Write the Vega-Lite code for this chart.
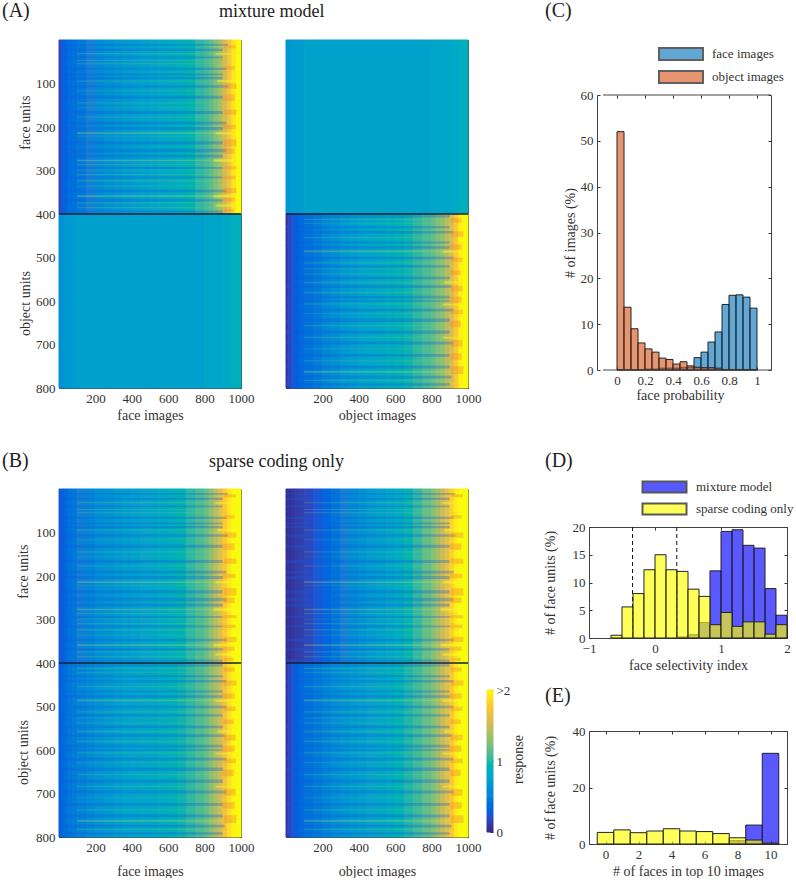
{"$schema":"https://vega.github.io/schema/vega-lite/v6.json","padding":{"left":2,"top":0,"right":0,"bottom":0},"background":"white","spacing":0,
"resolve":{"scale":{"color":"independent","fill":"independent","stroke":"independent","opacity":"independent"},"legend":{"color":"independent"}},
"config":{"font":"Liberation Serif","view":{"stroke":null},"title":{"font":"Liberation Serif","fontSize":18,"fontWeight":"normal","color":"#222","anchor":"start","frame":"group"},
"axis":{"labelFont":"Liberation Serif","labelFontSize":13,"titleFont":"Liberation Serif","titleFontSize":14,"titleFontWeight":"normal","labelColor":"#333","titleColor":"#333","grid":false,"tickSize":-3,"labelPadding":7,"tickColor":"#333","domainColor":"#444","domainWidth":1,"zindex":1,"labelOverlap":false,"labelFlush":false,"titlePadding":3},
"legend":{"labelFont":"Liberation Serif","labelFontSize":13,"labelColor":"#333"}},
"datasets":{
"a1":[{"x":0,"X":15,"u":0,"U":400,"v":0.15},{"x":15,"X":30,"u":0,"U":400,"v":0.25},{"x":30,"X":50,"u":0,"U":400,"v":0.3},{"x":50,"X":75,"u":0,"U":400,"v":0.36},{"x":75,"X":100,"u":0,"U":400,"v":0.4},{"x":100,"X":150,"u":0,"U":400,"v":0.45},{"x":150,"X":200,"u":0,"U":400,"v":0.5},{"x":200,"X":250,"u":0,"U":400,"v":0.57},{"x":250,"X":300,"u":0,"U":400,"v":0.61},{"x":300,"X":350,"u":0,"U":400,"v":0.65},{"x":350,"X":400,"u":0,"U":400,"v":0.68},{"x":400,"X":450,"u":0,"U":400,"v":0.71},{"x":450,"X":500,"u":0,"U":400,"v":0.73},{"x":500,"X":550,"u":0,"U":400,"v":0.76},{"x":550,"X":600,"u":0,"U":400,"v":0.79},{"x":600,"X":650,"u":0,"U":400,"v":0.82},{"x":650,"X":700,"u":0,"U":400,"v":0.86},{"x":700,"X":750,"u":0,"U":400,"v":0.92},{"x":750,"X":800,"u":0,"U":400,"v":1.0},{"x":800,"X":825,"u":0,"U":400,"v":1.06},{"x":825,"X":850,"u":0,"U":400,"v":1.12},{"x":850,"X":875,"u":0,"U":400,"v":1.22},{"x":875,"X":900,"u":0,"U":400,"v":1.35},{"x":900,"X":925,"u":0,"U":400,"v":1.52},{"x":925,"X":950,"u":0,"U":400,"v":1.7},{"x":950,"X":975,"u":0,"U":400,"v":1.9},{"x":975,"X":1000,"u":0,"U":400,"v":2},
{"x":0,"X":30,"u":400,"U":800,"v":0.62},{"x":30,"X":100,"u":400,"U":800,"v":0.67},{"x":100,"X":800,"u":400,"U":800,"v":0.72},{"x":800,"X":900,"u":400,"U":800,"v":0.76},{"x":900,"X":950,"u":400,"U":800,"v":0.8},{"x":950,"X":1000,"u":400,"U":800,"v":0.86}],
"a2":[{"x":0,"X":30,"u":0,"U":400,"v":0.64},{"x":30,"X":100,"u":0,"U":400,"v":0.68},{"x":100,"X":800,"u":0,"U":400,"v":0.73},{"x":800,"X":900,"u":0,"U":400,"v":0.76},{"x":900,"X":950,"u":0,"U":400,"v":0.8},{"x":950,"X":1000,"u":0,"U":400,"v":0.86},
{"x":0,"X":15,"u":400,"U":800,"v":0.08},{"x":15,"X":30,"u":400,"U":800,"v":0.15},{"x":30,"X":50,"u":400,"U":800,"v":0.22},{"x":50,"X":75,"u":400,"U":800,"v":0.28},{"x":75,"X":100,"u":400,"U":800,"v":0.33},{"x":100,"X":150,"u":400,"U":800,"v":0.39},{"x":150,"X":200,"u":400,"U":800,"v":0.46},{"x":200,"X":250,"u":400,"U":800,"v":0.55},{"x":250,"X":300,"u":400,"U":800,"v":0.6},{"x":300,"X":350,"u":400,"U":800,"v":0.66},{"x":350,"X":400,"u":400,"U":800,"v":0.7},{"x":400,"X":450,"u":400,"U":800,"v":0.74},{"x":450,"X":500,"u":400,"U":800,"v":0.77},{"x":500,"X":550,"u":400,"U":800,"v":0.81},{"x":550,"X":600,"u":400,"U":800,"v":0.84},{"x":600,"X":650,"u":400,"U":800,"v":0.89},{"x":650,"X":700,"u":400,"U":800,"v":0.94},{"x":700,"X":750,"u":400,"U":800,"v":1.0},{"x":750,"X":800,"u":400,"U":800,"v":1.08},{"x":800,"X":825,"u":400,"U":800,"v":1.15},{"x":825,"X":850,"u":400,"U":800,"v":1.22},{"x":850,"X":875,"u":400,"U":800,"v":1.3},{"x":875,"X":900,"u":400,"U":800,"v":1.42},{"x":900,"X":925,"u":400,"U":800,"v":1.55},{"x":925,"X":950,"u":400,"U":800,"v":1.75},{"x":950,"X":975,"u":400,"U":800,"v":1.96},{"x":975,"X":1000,"u":400,"U":800,"v":2}],
"b1":[{"x":0,"X":15,"u":0,"U":400,"v":0.22},{"x":15,"X":30,"u":0,"U":400,"v":0.28},{"x":30,"X":50,"u":0,"U":400,"v":0.33},{"x":50,"X":75,"u":0,"U":400,"v":0.4},{"x":75,"X":100,"u":0,"U":400,"v":0.44},{"x":100,"X":150,"u":0,"U":400,"v":0.49},{"x":150,"X":200,"u":0,"U":400,"v":0.54},{"x":200,"X":250,"u":0,"U":400,"v":0.6},{"x":250,"X":300,"u":0,"U":400,"v":0.63},{"x":300,"X":350,"u":0,"U":400,"v":0.66},{"x":350,"X":400,"u":0,"U":400,"v":0.69},{"x":400,"X":450,"u":0,"U":400,"v":0.72},{"x":450,"X":500,"u":0,"U":400,"v":0.75},{"x":500,"X":550,"u":0,"U":400,"v":0.78},{"x":550,"X":600,"u":0,"U":400,"v":0.82},{"x":600,"X":650,"u":0,"U":400,"v":0.86},{"x":650,"X":700,"u":0,"U":400,"v":0.92},{"x":700,"X":750,"u":0,"U":400,"v":1.0},{"x":750,"X":800,"u":0,"U":400,"v":1.08},{"x":800,"X":825,"u":0,"U":400,"v":1.17},{"x":825,"X":850,"u":0,"U":400,"v":1.28},{"x":850,"X":875,"u":0,"U":400,"v":1.42},{"x":875,"X":900,"u":0,"U":400,"v":1.58},{"x":900,"X":925,"u":0,"U":400,"v":1.75},{"x":925,"X":950,"u":0,"U":400,"v":1.9},{"x":950,"X":1000,"u":0,"U":400,"v":2},
{"x":0,"X":15,"u":400,"U":800,"v":0.28},{"x":15,"X":30,"u":400,"U":800,"v":0.33},{"x":30,"X":50,"u":400,"U":800,"v":0.38},{"x":50,"X":75,"u":400,"U":800,"v":0.43},{"x":75,"X":100,"u":400,"U":800,"v":0.47},{"x":100,"X":150,"u":400,"U":800,"v":0.52},{"x":150,"X":200,"u":400,"U":800,"v":0.58},{"x":200,"X":250,"u":400,"U":800,"v":0.63},{"x":250,"X":300,"u":400,"U":800,"v":0.67},{"x":300,"X":350,"u":400,"U":800,"v":0.71},{"x":350,"X":400,"u":400,"U":800,"v":0.74},{"x":400,"X":450,"u":400,"U":800,"v":0.76},{"x":450,"X":500,"u":400,"U":800,"v":0.78},{"x":500,"X":550,"u":400,"U":800,"v":0.81},{"x":550,"X":600,"u":400,"U":800,"v":0.84},{"x":600,"X":650,"u":400,"U":800,"v":0.88},{"x":650,"X":700,"u":400,"U":800,"v":0.94},{"x":700,"X":750,"u":400,"U":800,"v":1.0},{"x":750,"X":800,"u":400,"U":800,"v":1.08},{"x":800,"X":825,"u":400,"U":800,"v":1.16},{"x":825,"X":850,"u":400,"U":800,"v":1.26},{"x":850,"X":875,"u":400,"U":800,"v":1.38},{"x":875,"X":900,"u":400,"U":800,"v":1.5},{"x":900,"X":925,"u":400,"U":800,"v":1.68},{"x":925,"X":950,"u":400,"U":800,"v":1.85},{"x":950,"X":975,"u":400,"U":800,"v":1.97},{"x":975,"X":1000,"u":400,"U":800,"v":2}],
"b2":[{"x":0,"X":15,"u":0,"U":400,"v":0.03},{"x":15,"X":30,"u":0,"U":400,"v":0.05},{"x":30,"X":50,"u":0,"U":400,"v":0.07},{"x":50,"X":75,"u":0,"U":400,"v":0.09},{"x":75,"X":100,"u":0,"U":400,"v":0.11},{"x":100,"X":150,"u":0,"U":400,"v":0.15},{"x":150,"X":200,"u":0,"U":400,"v":0.23},{"x":200,"X":250,"u":0,"U":400,"v":0.32},{"x":250,"X":300,"u":0,"U":400,"v":0.41},{"x":300,"X":350,"u":0,"U":400,"v":0.5},{"x":350,"X":400,"u":0,"U":400,"v":0.57},{"x":400,"X":450,"u":0,"U":400,"v":0.63},{"x":450,"X":500,"u":0,"U":400,"v":0.68},{"x":500,"X":550,"u":0,"U":400,"v":0.72},{"x":550,"X":600,"u":0,"U":400,"v":0.77},{"x":600,"X":650,"u":0,"U":400,"v":0.83},{"x":650,"X":700,"u":0,"U":400,"v":0.93},{"x":700,"X":750,"u":0,"U":400,"v":1.02},{"x":750,"X":800,"u":0,"U":400,"v":1.15},{"x":800,"X":825,"u":0,"U":400,"v":1.26},{"x":825,"X":850,"u":0,"U":400,"v":1.36},{"x":850,"X":875,"u":0,"U":400,"v":1.5},{"x":875,"X":900,"u":0,"U":400,"v":1.62},{"x":900,"X":925,"u":0,"U":400,"v":1.8},{"x":925,"X":950,"u":0,"U":400,"v":1.95},{"x":950,"X":1000,"u":0,"U":400,"v":2},
{"x":0,"X":15,"u":400,"U":800,"v":0.08},{"x":15,"X":30,"u":400,"U":800,"v":0.15},{"x":30,"X":50,"u":400,"U":800,"v":0.22},{"x":50,"X":75,"u":400,"U":800,"v":0.28},{"x":75,"X":100,"u":400,"U":800,"v":0.33},{"x":100,"X":150,"u":400,"U":800,"v":0.39},{"x":150,"X":200,"u":400,"U":800,"v":0.46},{"x":200,"X":250,"u":400,"U":800,"v":0.53},{"x":250,"X":300,"u":400,"U":800,"v":0.59},{"x":300,"X":350,"u":400,"U":800,"v":0.64},{"x":350,"X":400,"u":400,"U":800,"v":0.68},{"x":400,"X":450,"u":400,"U":800,"v":0.71},{"x":450,"X":500,"u":400,"U":800,"v":0.75},{"x":500,"X":550,"u":400,"U":800,"v":0.79},{"x":550,"X":600,"u":400,"U":800,"v":0.84},{"x":600,"X":650,"u":400,"U":800,"v":0.9},{"x":650,"X":700,"u":400,"U":800,"v":0.97},{"x":700,"X":750,"u":400,"U":800,"v":1.05},{"x":750,"X":800,"u":400,"U":800,"v":1.15},{"x":800,"X":825,"u":400,"U":800,"v":1.24},{"x":825,"X":850,"u":400,"U":800,"v":1.34},{"x":850,"X":875,"u":400,"U":800,"v":1.48},{"x":875,"X":900,"u":400,"U":800,"v":1.6},{"x":900,"X":925,"u":400,"U":800,"v":1.75},{"x":925,"X":950,"u":400,"U":800,"v":1.92},{"x":950,"X":1000,"u":400,"U":800,"v":2}],
"s1":[{"x":100,"X":940,"u":30,"U":33,"k":"l"},{"x":100,"X":920,"u":46,"U":48,"k":"l"},{"x":100,"X":930,"u":53,"U":56,"k":"l"},{"x":100,"X":950,"u":93,"U":96,"k":"l"},{"x":100,"X":930,"u":116,"U":118,"k":"l"},{"x":100,"X":920,"u":143,"U":146,"k":"l"},{"x":100,"X":930,"u":155,"U":157,"k":"l"},{"x":100,"X":940,"u":176,"U":178,"k":"l"},{"x":100,"X":950,"u":212,"U":216,"k":"L"},{"x":100,"X":930,"u":220,"U":222,"k":"l"},{"x":100,"X":960,"u":275,"U":279,"k":"L"},{"x":100,"X":940,"u":285,"U":288,"k":"l"},{"x":100,"X":930,"u":298,"U":300,"k":"l"},{"x":100,"X":930,"u":308,"U":311,"k":"l"},{"x":100,"X":950,"u":322,"U":325,"k":"l"},{"x":100,"X":930,"u":335,"U":337,"k":"l"},{"x":100,"X":960,"u":357,"U":361,"k":"L"},{"x":100,"X":940,"u":373,"U":376,"k":"l"},{"x":100,"X":950,"u":384,"U":387,"k":"l"},
{"x":0,"X":930,"u":9,"U":13,"k":"d"},{"x":0,"X":900,"u":20,"U":25,"k":"d"},{"x":0,"X":900,"u":38,"U":42,"k":"d"},{"x":0,"X":920,"u":64,"U":69,"k":"d"},{"x":0,"X":900,"u":77,"U":81,"k":"d"},{"x":0,"X":900,"u":85,"U":90,"k":"d"},{"x":0,"X":930,"u":104,"U":110,"k":"d"},{"x":0,"X":900,"u":128,"U":135,"k":"d"},{"x":0,"X":900,"u":163,"U":170,"k":"d"},{"x":0,"X":920,"u":188,"U":194,"k":"d"},{"x":0,"X":900,"u":200,"U":207,"k":"d"},{"x":0,"X":900,"u":233,"U":240,"k":"d"},{"x":0,"X":920,"u":250,"U":258,"k":"d"},{"x":0,"X":900,"u":264,"U":270,"k":"d"},{"x":0,"X":900,"u":292,"U":296,"k":"d"},{"x":0,"X":900,"u":314,"U":318,"k":"d"},{"x":0,"X":920,"u":344,"U":350,"k":"d"},{"x":0,"X":900,"u":366,"U":371,"k":"d"},{"x":0,"X":900,"u":392,"U":397,"k":"d"},
{"x":905,"X":972,"u":12,"U":19,"k":"o"},{"x":905,"X":965,"u":60,"U":68,"k":"o"},{"x":905,"X":975,"u":100,"U":112,"k":"o"},{"x":900,"X":965,"u":125,"U":140,"k":"o"},{"x":905,"X":975,"u":160,"U":172,"k":"o"},{"x":900,"X":970,"u":195,"U":205,"k":"o"},{"x":905,"X":975,"u":228,"U":245,"k":"o"},{"x":905,"X":965,"u":250,"U":262,"k":"o"},{"x":900,"X":975,"u":290,"U":297,"k":"o"},{"x":900,"X":970,"u":312,"U":320,"k":"o"},{"x":905,"X":975,"u":340,"U":352,"k":"o"},{"x":900,"X":965,"u":362,"U":372,"k":"o"},{"x":905,"X":960,"u":388,"U":396,"k":"o"},
{"x":860,"X":950,"u":30,"U":34,"k":"y"},{"x":870,"X":960,"u":92,"U":97,"k":"y"},{"x":860,"X":950,"u":212,"U":217,"k":"y"},{"x":850,"X":960,"u":274,"U":280,"k":"y"},{"x":850,"X":960,"u":356,"U":362,"k":"y"},{"x":860,"X":950,"u":378,"U":383,"k":"y"}],
"s2":[{"x":100,"X":930,"u":411,"U":414,"k":"l"},{"x":100,"X":920,"u":421,"U":423,"k":"l"},{"x":100,"X":940,"u":453,"U":456,"k":"l"},{"x":100,"X":950,"u":484,"U":488,"k":"L"},{"x":100,"X":930,"u":511,"U":514,"k":"l"},{"x":100,"X":920,"u":525,"U":527,"k":"l"},{"x":100,"X":930,"u":537,"U":539,"k":"l"},{"x":100,"X":930,"u":556,"U":559,"k":"l"},{"x":100,"X":940,"u":579,"U":582,"k":"l"},{"x":100,"X":930,"u":605,"U":608,"k":"l"},{"x":100,"X":920,"u":628,"U":630,"k":"l"},{"x":100,"X":930,"u":655,"U":658,"k":"l"},{"x":100,"X":940,"u":682,"U":685,"k":"l"},{"x":100,"X":920,"u":709,"U":711,"k":"l"},{"x":100,"X":930,"u":736,"U":739,"k":"l"},{"x":100,"X":950,"u":761,"U":765,"k":"L"},{"x":100,"X":930,"u":781,"U":784,"k":"l"},
{"x":0,"X":900,"u":403,"U":408,"k":"d"},{"x":0,"X":900,"u":428,"U":433,"k":"d"},{"x":0,"X":920,"u":439,"U":445,"k":"d"},{"x":0,"X":900,"u":463,"U":468,"k":"d"},{"x":0,"X":900,"u":474,"U":480,"k":"d"},{"x":0,"X":920,"u":498,"U":504,"k":"d"},{"x":0,"X":900,"u":518,"U":523,"k":"d"},{"x":0,"X":900,"u":544,"U":550,"k":"d"},{"x":0,"X":910,"u":564,"U":570,"k":"d"},{"x":0,"X":900,"u":588,"U":594,"k":"d"},{"x":0,"X":900,"u":598,"U":602,"k":"d"},{"x":0,"X":920,"u":618,"U":624,"k":"d"},{"x":0,"X":900,"u":640,"U":648,"k":"d"},{"x":0,"X":900,"u":668,"U":675,"k":"d"},{"x":0,"X":920,"u":693,"U":700,"k":"d"},{"x":0,"X":900,"u":722,"U":728,"k":"d"},{"x":0,"X":900,"u":748,"U":755,"k":"d"},{"x":0,"X":910,"u":772,"U":778,"k":"d"},{"x":0,"X":900,"u":789,"U":795,"k":"d"},
{"x":905,"X":965,"u":410,"U":420,"k":"o"},{"x":905,"X":975,"u":440,"U":452,"k":"o"},{"x":900,"X":965,"u":470,"U":482,"k":"o"},{"x":905,"X":970,"u":500,"U":510,"k":"o"},{"x":900,"X":960,"u":530,"U":540,"k":"o"},{"x":905,"X":970,"u":565,"U":578,"k":"o"},{"x":900,"X":965,"u":590,"U":604,"k":"o"},{"x":905,"X":972,"u":620,"U":630,"k":"o"},{"x":900,"X":960,"u":645,"U":660,"k":"o"},{"x":905,"X":970,"u":690,"U":705,"k":"o"},{"x":900,"X":965,"u":720,"U":735,"k":"o"},{"x":905,"X":975,"u":750,"U":768,"k":"o"},
{"x":860,"X":950,"u":484,"U":489,"k":"y"},{"x":870,"X":950,"u":555,"U":560,"k":"y"},{"x":860,"X":945,"u":606,"U":610,"k":"y"},{"x":860,"X":950,"u":682,"U":686,"k":"y"}],
"lab":[{"u":190,"t":"face units"},{"u":606,"t":"object units"}],
"ax":[{"x":0,"u":0}]
},
"hconcat":[
{"spacing":28,"vconcat":[
{"bounds":"flush","spacing":45,"hconcat":[
{"width":182,"height":348,"title":{"text":"(A)","fontSize":20,"dx":-57,"offset":19},"resolve":{"axis":{"x":"independent","y":"independent"},"scale":{"color":"independent"}},"layer":[
{"data":{"name":"a1"},"mark":"rect","encoding":{"x":{"field":"x","type":"quantitative","scale":{"domain":[0,1000]},"axis":{"values":[200,400,600,800,1000],"format":"d","title":"face images"}},"x2":{"field":"X"},"y":{"field":"u","type":"quantitative","scale":{"domain":[800,0]},"axis":{"values":[100,200,300,400,500,600,700,800],"title":null}},"y2":{"field":"U"},"fill":{"field":"v","type":"quantitative","scale":{"domain":[0,0.25,0.5,0.75,1,1.25,1.5,1.75,2],"range":["#352a87","#0f5cdd","#1481d6","#06a4ca","#2eb7a4","#87bf77","#d1bb59","#fec832","#f9fb0e"]},"legend":null},"stroke":{"field":"v","type":"quantitative","scale":{"domain":[0,0.25,0.5,0.75,1,1.25,1.5,1.75,2],"range":["#352a87","#0f5cdd","#1481d6","#06a4ca","#2eb7a4","#87bf77","#d1bb59","#fec832","#f9fb0e"]},"legend":null}}},
{"data":{"name":"s1"},"mark":"rect","encoding":{"x":{"field":"x","type":"quantitative","axis":null},"x2":{"field":"X"},"y":{"field":"u","type":"quantitative","axis":null},"y2":{"field":"U"},"color":{"field":"k","type":"nominal","scale":{"domain":["l","L","d","o","y"],"range":["#8fd06a","#d8e060","#0f5cdd","#f08c30","#ffff20"]},"legend":null},"opacity":{"field":"k","type":"nominal","scale":{"domain":["l","L","d","o","y"],"range":[0.2,0.45,0.1,0.14,0.4]},"legend":null}}},
{"data":{"values":[{"u":400}]},"mark":{"type":"rule","color":"#123","strokeWidth":1.5},"encoding":{"y":{"field":"u","type":"quantitative","axis":null}}},
{"data":{"name":"lab"},"mark":{"type":"text","angle":270,"fontSize":14,"color":"#333","font":"Liberation Serif"},"encoding":{"x":{"datum":-181,"type":"quantitative","axis":null},"y":{"field":"u","type":"quantitative","axis":null},"text":{"field":"t"}}},
{"data":{"name":"ax"},"mark":{"type":"rule","opacity":0},"encoding":{"x":{"field":"x","type":"quantitative","axis":{"orient":"top","labels":false,"title":null,"values":[200,400,600,800,1000]}},"y":{"field":"u","type":"quantitative","axis":{"orient":"right","labels":false,"title":null,"values":[100,200,300,400,500,600,700,800]}}}}
]},
{"width":182,"height":348,"title":{"text":"mixture model","dx":-67,"offset":19},"resolve":{"axis":{"x":"independent","y":"independent"},"scale":{"color":"independent"}},"layer":[
{"data":{"name":"a2"},"mark":"rect","encoding":{"x":{"field":"x","type":"quantitative","scale":{"domain":[0,1000]},"axis":{"values":[200,400,600,800,1000],"format":"d","title":"object images"}},"x2":{"field":"X"},"y":{"field":"u","type":"quantitative","scale":{"domain":[800,0]},"axis":{"values":[100,200,300,400,500,600,700,800],"title":null,"labels":false}},"y2":{"field":"U"},"fill":{"field":"v","type":"quantitative","scale":{"domain":[0,0.25,0.5,0.75,1,1.25,1.5,1.75,2],"range":["#352a87","#0f5cdd","#1481d6","#06a4ca","#2eb7a4","#87bf77","#d1bb59","#fec832","#f9fb0e"]},"legend":null},"stroke":{"field":"v","type":"quantitative","scale":{"domain":[0,0.25,0.5,0.75,1,1.25,1.5,1.75,2],"range":["#352a87","#0f5cdd","#1481d6","#06a4ca","#2eb7a4","#87bf77","#d1bb59","#fec832","#f9fb0e"]},"legend":null}}},
{"data":{"name":"s2"},"mark":"rect","encoding":{"x":{"field":"x","type":"quantitative","axis":null},"x2":{"field":"X"},"y":{"field":"u","type":"quantitative","axis":null},"y2":{"field":"U"},"color":{"field":"k","type":"nominal","scale":{"domain":["l","L","d","o","y"],"range":["#8fd06a","#d8e060","#0f5cdd","#f08c30","#ffff20"]},"legend":null},"opacity":{"field":"k","type":"nominal","scale":{"domain":["l","L","d","o","y"],"range":[0.2,0.45,0.1,0.14,0.4]},"legend":null}}},
{"data":{"values":[{"u":400}]},"mark":{"type":"rule","color":"#123","strokeWidth":1.5},"encoding":{"y":{"field":"u","type":"quantitative","axis":null}}},
{"data":{"name":"ax"},"mark":{"type":"rule","opacity":0},"encoding":{"x":{"field":"x","type":"quantitative","axis":{"orient":"top","labels":false,"title":null,"values":[200,400,600,800,1000]}},"y":{"field":"u","type":"quantitative","axis":{"orient":"right","labels":false,"title":null,"values":[100,200,300,400,500,600,700,800]}}}}
]}
]},
{"bounds":"flush","spacing":45,"hconcat":[
{"width":182,"height":348,"title":{"text":"(B)","fontSize":20,"dx":-57,"offset":18},"resolve":{"axis":{"x":"independent","y":"independent"},"scale":{"color":"independent"}},"layer":[
{"data":{"name":"b1"},"mark":"rect","encoding":{"x":{"field":"x","type":"quantitative","scale":{"domain":[0,1000]},"axis":{"values":[200,400,600,800,1000],"format":"d","title":"face images","titlePadding":10}},"x2":{"field":"X"},"y":{"field":"u","type":"quantitative","scale":{"domain":[800,0]},"axis":{"values":[100,200,300,400,500,600,700,800],"title":null}},"y2":{"field":"U"},"fill":{"field":"v","type":"quantitative","scale":{"domain":[0,0.25,0.5,0.75,1,1.25,1.5,1.75,2],"range":["#352a87","#0f5cdd","#1481d6","#06a4ca","#2eb7a4","#87bf77","#d1bb59","#fec832","#f9fb0e"]},"legend":null},"stroke":{"field":"v","type":"quantitative","scale":{"domain":[0,0.25,0.5,0.75,1,1.25,1.5,1.75,2],"range":["#352a87","#0f5cdd","#1481d6","#06a4ca","#2eb7a4","#87bf77","#d1bb59","#fec832","#f9fb0e"]},"legend":null}}},
{"data":{"name":"s1"},"mark":"rect","encoding":{"x":{"field":"x","type":"quantitative","axis":null},"x2":{"field":"X"},"y":{"field":"u","type":"quantitative","axis":null},"y2":{"field":"U"},"color":{"field":"k","type":"nominal","scale":{"domain":["l","L","d","o","y"],"range":["#8fd06a","#d8e060","#0f5cdd","#f08c30","#ffff20"]},"legend":null},"opacity":{"field":"k","type":"nominal","scale":{"domain":["l","L","d","o","y"],"range":[0.2,0.45,0.1,0.14,0.4]},"legend":null}}},
{"data":{"name":"s2"},"mark":"rect","encoding":{"x":{"field":"x","type":"quantitative","axis":null},"x2":{"field":"X"},"y":{"field":"u","type":"quantitative","axis":null},"y2":{"field":"U"},"color":{"field":"k","type":"nominal","scale":{"domain":["l","L","d","o","y"],"range":["#8fd06a","#d8e060","#0f5cdd","#f08c30","#ffff20"]},"legend":null},"opacity":{"field":"k","type":"nominal","scale":{"domain":["l","L","d","o","y"],"range":[0.2,0.45,0.1,0.14,0.4]},"legend":null}}},
{"data":{"values":[{"u":400}]},"mark":{"type":"rule","color":"#123","strokeWidth":1.5},"encoding":{"y":{"field":"u","type":"quantitative","axis":null}}},
{"data":{"name":"lab"},"mark":{"type":"text","angle":270,"fontSize":14,"color":"#333","font":"Liberation Serif"},"encoding":{"x":{"datum":-190,"type":"quantitative","axis":null},"y":{"field":"u","type":"quantitative","axis":null},"text":{"field":"t"}}},
{"data":{"name":"ax"},"mark":{"type":"rule","opacity":0},"encoding":{"x":{"field":"x","type":"quantitative","axis":{"orient":"top","labels":false,"title":null,"values":[200,400,600,800,1000]}},"y":{"field":"u","type":"quantitative","axis":{"orient":"right","labels":false,"title":null,"values":[100,200,300,400,500,600,700,800]}}}}
]},
{"width":182,"height":348,"title":{"text":"sparse coding only","dx":-77,"offset":18},"resolve":{"axis":{"x":"independent","y":"independent"},"scale":{"color":"independent"}},"layer":[
{"data":{"name":"b2"},"mark":"rect","encoding":{"x":{"field":"x","type":"quantitative","scale":{"domain":[0,1000]},"axis":{"values":[200,400,600,800,1000],"format":"d","title":"object images","titlePadding":10}},"x2":{"field":"X"},"y":{"field":"u","type":"quantitative","scale":{"domain":[800,0]},"axis":{"values":[100,200,300,400,500,600,700,800],"title":null,"labels":false}},"y2":{"field":"U"},"fill":{"field":"v","type":"quantitative","scale":{"domain":[0,0.25,0.5,0.75,1,1.25,1.5,1.75,2],"range":["#352a87","#0f5cdd","#1481d6","#06a4ca","#2eb7a4","#87bf77","#d1bb59","#fec832","#f9fb0e"]},"legend":null},"stroke":{"field":"v","type":"quantitative","scale":{"domain":[0,0.25,0.5,0.75,1,1.25,1.5,1.75,2],"range":["#352a87","#0f5cdd","#1481d6","#06a4ca","#2eb7a4","#87bf77","#d1bb59","#fec832","#f9fb0e"]},"legend":null}}},
{"data":{"name":"s1"},"mark":"rect","encoding":{"x":{"field":"x","type":"quantitative","axis":null},"x2":{"field":"X"},"y":{"field":"u","type":"quantitative","axis":null},"y2":{"field":"U"},"color":{"field":"k","type":"nominal","scale":{"domain":["l","L","d","o","y"],"range":["#8fd06a","#d8e060","#0f5cdd","#f08c30","#ffff20"]},"legend":null},"opacity":{"field":"k","type":"nominal","scale":{"domain":["l","L","d","o","y"],"range":[0.2,0.45,0.1,0.14,0.4]},"legend":null}}},
{"data":{"name":"s2"},"mark":"rect","encoding":{"x":{"field":"x","type":"quantitative","axis":null},"x2":{"field":"X"},"y":{"field":"u","type":"quantitative","axis":null},"y2":{"field":"U"},"color":{"field":"k","type":"nominal","scale":{"domain":["l","L","d","o","y"],"range":["#8fd06a","#d8e060","#0f5cdd","#f08c30","#ffff20"]},"legend":null},"opacity":{"field":"k","type":"nominal","scale":{"domain":["l","L","d","o","y"],"range":[0.2,0.45,0.1,0.14,0.4]},"legend":null}}},
{"data":{"values":[{"u":400}]},"mark":{"type":"rule","color":"#123","strokeWidth":1.5},"encoding":{"y":{"field":"u","type":"quantitative","axis":null}}},
{"data":{"name":"ax"},"mark":{"type":"rule","opacity":0},"encoding":{"x":{"field":"x","type":"quantitative","axis":{"orient":"top","labels":false,"title":null,"values":[200,400,600,800,1000]}},"y":{"field":"u","type":"quantitative","axis":{"orient":"right","labels":false,"title":null,"values":[100,200,300,400,500,600,700,800]}}}}
]}
]}
]},
{"width":62,"height":796,"data":{"values":[{"v":0,"V":0.05},{"v":0.05,"V":0.1},{"v":0.1,"V":0.15},{"v":0.15,"V":0.2},{"v":0.2,"V":0.25},{"v":0.25,"V":0.3},{"v":0.3,"V":0.35},{"v":0.35,"V":0.4},{"v":0.4,"V":0.45},{"v":0.45,"V":0.5},{"v":0.5,"V":0.55},{"v":0.55,"V":0.6},{"v":0.6,"V":0.65},{"v":0.65,"V":0.7},{"v":0.7,"V":0.75},{"v":0.75,"V":0.8},{"v":0.8,"V":0.85},{"v":0.85,"V":0.9},{"v":0.9,"V":0.95},{"v":0.95,"V":1},{"v":1,"V":1.05},{"v":1.05,"V":1.1},{"v":1.1,"V":1.15},{"v":1.15,"V":1.2},{"v":1.2,"V":1.25},{"v":1.25,"V":1.3},{"v":1.3,"V":1.35},{"v":1.35,"V":1.4},{"v":1.4,"V":1.45},{"v":1.45,"V":1.5},{"v":1.5,"V":1.55},{"v":1.55,"V":1.6},{"v":1.6,"V":1.65},{"v":1.65,"V":1.7},{"v":1.7,"V":1.75},{"v":1.75,"V":1.8},{"v":1.8,"V":1.85},{"v":1.85,"V":1.9},{"v":1.9,"V":1.95},{"v":1.95,"V":2}]},"mark":"rect","encoding":{"x":{"datum":6,"type":"quantitative","scale":{"domain":[0,62]},"axis":null},"x2":{"datum":12},"y":{"field":"v","type":"quantitative","scale":{"domain":[-0.056,11.155]},"axis":{"orient":"right","offset":-50,"domain":false,"values":[0,1,2],"labelExpr":"datum.value==2?'>2':datum.label","title":"response","titleAngle":270,"titleY":719,"titleX":32,"labelPadding":6}},"y2":{"field":"V"},"fill":{"field":"v","type":"quantitative","scale":{"domain":[0,0.25,0.5,0.75,1,1.25,1.5,1.75,2],"range":["#352a87","#0f5cdd","#1481d6","#06a4ca","#2eb7a4","#87bf77","#d1bb59","#fec832","#f9fb0e"]},"legend":null},"stroke":{"field":"v","type":"quantitative","scale":{"domain":[0,0.25,0.5,0.75,1,1.25,1.5,1.75,2],"range":["#352a87","#0f5cdd","#1481d6","#06a4ca","#2eb7a4","#87bf77","#d1bb59","#fec832","#f9fb0e"]},"legend":null}}},
{"spacing":1,"resolve":{"scale":{"color":"independent"},"legend":{"color":"independent"}},"vconcat":[
{"width":182,"height":1,"title":{"text":"(C)","fontSize":20,"dx":-44,"offset":19},"data":{"values":[]},"mark":"point","encoding":{}},
{"spacing":49,"resolve":{"scale":{"color":"independent"},"legend":{"color":"independent"}},"vconcat":[
{"width":182,"height":275,"resolve":{"axis":{"x":"independent","y":"independent"}},"layer":[
{"data":{"values":[{"s":"face images","a":0,"b":0.05,"y":0.1},{"s":"face images","a":0.05,"b":0.1,"y":0.1},{"s":"face images","a":0.1,"b":0.15,"y":0.1},{"s":"face images","a":0.15,"b":0.2,"y":0.1},{"s":"face images","a":0.2,"b":0.25,"y":0.2},{"s":"face images","a":0.25,"b":0.3,"y":0.2},{"s":"face images","a":0.3,"b":0.35,"y":0.4},{"s":"face images","a":0.35,"b":0.4,"y":0.4},{"s":"face images","a":0.4,"b":0.45,"y":0.4},{"s":"face images","a":0.45,"b":0.5,"y":0.5},{"s":"face images","a":0.5,"b":0.55,"y":0.6},{"s":"face images","a":0.55,"b":0.6,"y":2.7},{"s":"face images","a":0.6,"b":0.65,"y":3.9},{"s":"face images","a":0.65,"b":0.7,"y":6.1},{"s":"face images","a":0.7,"b":0.75,"y":8.3},{"s":"face images","a":0.75,"b":0.8,"y":14.3},{"s":"face images","a":0.8,"b":0.85,"y":16.3},{"s":"face images","a":0.85,"b":0.9,"y":16.4},{"s":"face images","a":0.9,"b":0.95,"y":15.9},{"s":"face images","a":0.95,"b":1,"y":13.5},{"s":"object images","a":0,"b":0.05,"y":52},{"s":"object images","a":0.05,"b":0.1,"y":13.7},{"s":"object images","a":0.1,"b":0.15,"y":9},{"s":"object images","a":0.15,"b":0.2,"y":5.9},{"s":"object images","a":0.2,"b":0.25,"y":4.6},{"s":"object images","a":0.25,"b":0.3,"y":3.9},{"s":"object images","a":0.3,"b":0.35,"y":2.6},{"s":"object images","a":0.35,"b":0.4,"y":2.3},{"s":"object images","a":0.4,"b":0.45,"y":1.3},{"s":"object images","a":0.45,"b":0.5,"y":1.8},{"s":"object images","a":0.5,"b":0.55,"y":0.9},{"s":"object images","a":0.55,"b":0.6,"y":0.6},{"s":"object images","a":0.6,"b":0.65,"y":0.5},{"s":"object images","a":0.65,"b":0.7,"y":0.5},{"s":"object images","a":0.7,"b":0.75,"y":0.4},{"s":"object images","a":0.75,"b":0.8,"y":0.1},{"s":"object images","a":0.8,"b":0.85,"y":0.1},{"s":"object images","a":0.85,"b":0.9,"y":0.1},{"s":"object images","a":0.9,"b":0.95,"y":0.1},{"s":"object images","a":0.95,"b":1,"y":0.1}]},"mark":{"type":"rect","fillOpacity":0.62,"stroke":"#222","strokeWidth":1},"encoding":{"x":{"field":"a","type":"quantitative","scale":{"domain":[-0.1566,1.1]},"axis":{"values":[0,0.2,0.4,0.6,0.8,1],"format":"~g","domain":false,"title":"face probability","titlePadding":1}},"x2":{"field":"b"},"y":{"field":"y","type":"quantitative","scale":{"domain":[0,60]},"axis":{"values":[0,10,20,30,40,50,60],"offset":-8,"title":"# of images (%)"}},"y2":{"datum":0},"color":{"field":"s","type":"nominal","scale":{"domain":["face images","object images"],"range":["#0072bd","#d95319"]},"legend":{"orient":"none","legendX":80,"legendY":-53,"title":null,"symbolType":"M-2,-0.55H2V0.55H-2Z","symbolSize":484,"symbolOpacity":0.62,"symbolStrokeColor":"#000","symbolStrokeWidth":2,"labelOffset":19,"rowPadding":-4}}}},
{"data":{"values":[{"a":-0.1,"b":1.1,"y":0},{"a":-0.1,"b":1.1,"y":60}]},"mark":{"type":"rule","color":"#444","strokeWidth":1},"encoding":{"x":{"field":"a","type":"quantitative","axis":null},"x2":{"field":"b"},"y":{"field":"y","type":"quantitative","axis":null}}},
{"data":{"name":"ax"},"mark":{"type":"rule","opacity":0},"encoding":{"x":{"field":"x","type":"quantitative","axis":{"orient":"top","domain":false,"labels":false,"title":null,"values":[0,0.2,0.4,0.6,0.8,1]}},"y":{"field":"u","type":"quantitative","axis":{"orient":"right","labels":false,"title":null,"values":[0,10,20,30,40,50,60]}}}}
]},
{"bounds":"flush","spacing":93,"resolve":{"scale":{"color":"independent"},"legend":{"color":"independent"}},"vconcat":[
{"width":198,"height":111,"title":{"text":"(D)","fontSize":20,"dx":-44,"offset":4},"resolve":{"axis":{"x":"independent","y":"independent"}},"layer":[
{"data":{"values":[{"x":-0.34},{"x":0.33}]},"mark":{"type":"rule","color":"#111","strokeDash":[4,3],"strokeWidth":1},"encoding":{"x":{"field":"x","type":"quantitative","axis":null,"scale":{"domain":[-1,2]}}}},
{"data":{"values":[{"s":"mixture model","a":0.333,"b":0.5,"y":0.2},{"s":"mixture model","a":0.5,"b":0.667,"y":0.6},{"s":"mixture model","a":0.667,"b":0.833,"y":2.8},{"s":"mixture model","a":0.833,"b":1,"y":12.1},{"s":"mixture model","a":1,"b":1.167,"y":19.2},{"s":"mixture model","a":1.167,"b":1.333,"y":19.5},{"s":"mixture model","a":1.333,"b":1.5,"y":16.7},{"s":"mixture model","a":1.5,"b":1.667,"y":16.2},{"s":"mixture model","a":1.667,"b":1.833,"y":8.9},{"s":"mixture model","a":1.833,"b":2,"y":4.1},{"s":"sparse coding only","a":-0.667,"b":-0.5,"y":0.5},{"s":"sparse coding only","a":-0.5,"b":-0.333,"y":5.6},{"s":"sparse coding only","a":-0.333,"b":-0.167,"y":8},{"s":"sparse coding only","a":-0.167,"b":0,"y":12.3},{"s":"sparse coding only","a":0,"b":0.167,"y":15},{"s":"sparse coding only","a":0.167,"b":0.333,"y":12.3},{"s":"sparse coding only","a":0.333,"b":0.5,"y":12},{"s":"sparse coding only","a":0.5,"b":0.667,"y":8.8},{"s":"sparse coding only","a":0.667,"b":0.833,"y":7.5},{"s":"sparse coding only","a":0.833,"b":1,"y":2.4},{"s":"sparse coding only","a":1,"b":1.167,"y":4.6},{"s":"sparse coding only","a":1.167,"b":1.333,"y":2.1},{"s":"sparse coding only","a":1.333,"b":1.5,"y":2.9},{"s":"sparse coding only","a":1.5,"b":1.667,"y":2.9},{"s":"sparse coding only","a":1.667,"b":1.833,"y":0.7},{"s":"sparse coding only","a":1.833,"b":2,"y":2.4}]},"mark":{"type":"rect","fillOpacity":0.65,"stroke":"#222","strokeWidth":1},"encoding":{"x":{"field":"a","type":"quantitative","axis":{"values":[-1,0,1,2],"title":"face selectivity index"}},"x2":{"field":"b"},"y":{"field":"y","type":"quantitative","scale":{"domain":[0,20]},"axis":{"values":[0,5,10,15,20],"title":"# of face units (%)","titlePadding":15}},"y2":{"datum":0},"color":{"field":"s","type":"nominal","scale":{"domain":["mixture model","sparse coding only"],"range":["#0000ff","#ffff00"]},"legend":{"orient":"none","legendX":63.5,"legendY":-52,"title":null,"symbolType":"M-2,-0.5H2V0.5H-2Z","symbolSize":484,"symbolOpacity":0.65,"symbolStrokeColor":"#000","symbolStrokeWidth":2,"labelOffset":19.5,"rowPadding":-4}}}},
{"data":{"name":"ax"},"mark":{"type":"rule","opacity":0},"encoding":{"x":{"field":"x","type":"quantitative","axis":{"orient":"top","labels":false,"title":null,"values":[-1,0,1,2]}},"y":{"field":"u","type":"quantitative","axis":{"orient":"right","labels":false,"title":null,"values":[0,5,10,15,20]}}}}
]},
{"width":198,"height":113,"title":{"text":"(E)","fontSize":20,"dx":-44,"offset":19},"resolve":{"axis":{"x":"independent","y":"independent"}},"layer":[
{"data":{"values":[{"s":"mixture model","a":6.5,"b":7.5,"y":0.1},{"s":"mixture model","a":7.5,"b":8.5,"y":1.2},{"s":"mixture model","a":8.5,"b":9.5,"y":6.7},{"s":"mixture model","a":9.5,"b":10.5,"y":32.1},{"s":"sparse coding only","a":-0.5,"b":0.5,"y":4.1},{"s":"sparse coding only","a":0.5,"b":1.5,"y":5},{"s":"sparse coding only","a":1.5,"b":2.5,"y":4},{"s":"sparse coding only","a":2.5,"b":3.5,"y":4.6},{"s":"sparse coding only","a":3.5,"b":4.5,"y":5.4},{"s":"sparse coding only","a":4.5,"b":5.5,"y":4.6},{"s":"sparse coding only","a":5.5,"b":6.5,"y":4.4},{"s":"sparse coding only","a":6.5,"b":7.5,"y":3.7},{"s":"sparse coding only","a":7.5,"b":8.5,"y":2.2},{"s":"sparse coding only","a":8.5,"b":9.5,"y":1.4},{"s":"sparse coding only","a":9.5,"b":10.5,"y":0.3}]},"mark":{"type":"rect","fillOpacity":0.65,"stroke":"#222","strokeWidth":1},"encoding":{"x":{"field":"a","type":"quantitative","scale":{"domain":[-1,11]},"axis":{"values":[0,2,4,6,8,10],"title":"# of faces in top 10 images"}},"x2":{"field":"b"},"y":{"field":"y","type":"quantitative","scale":{"domain":[0,40]},"axis":{"values":[0,20,40],"title":"# of face units (%)","titlePadding":15}},"y2":{"datum":0},"color":{"field":"s","type":"nominal","scale":{"domain":["mixture model","sparse coding only"],"range":["#0000ff","#ffff00"]},"legend":null}}},
{"data":{"name":"ax"},"mark":{"type":"rule","opacity":0},"encoding":{"x":{"field":"x","type":"quantitative","axis":{"orient":"top","labels":false,"title":null,"values":[0,2,4,6,8,10]}},"y":{"field":"u","type":"quantitative","axis":{"orient":"right","labels":false,"title":null,"values":[0,20,40]}}}}
]}
]}
]}
]}
]}
